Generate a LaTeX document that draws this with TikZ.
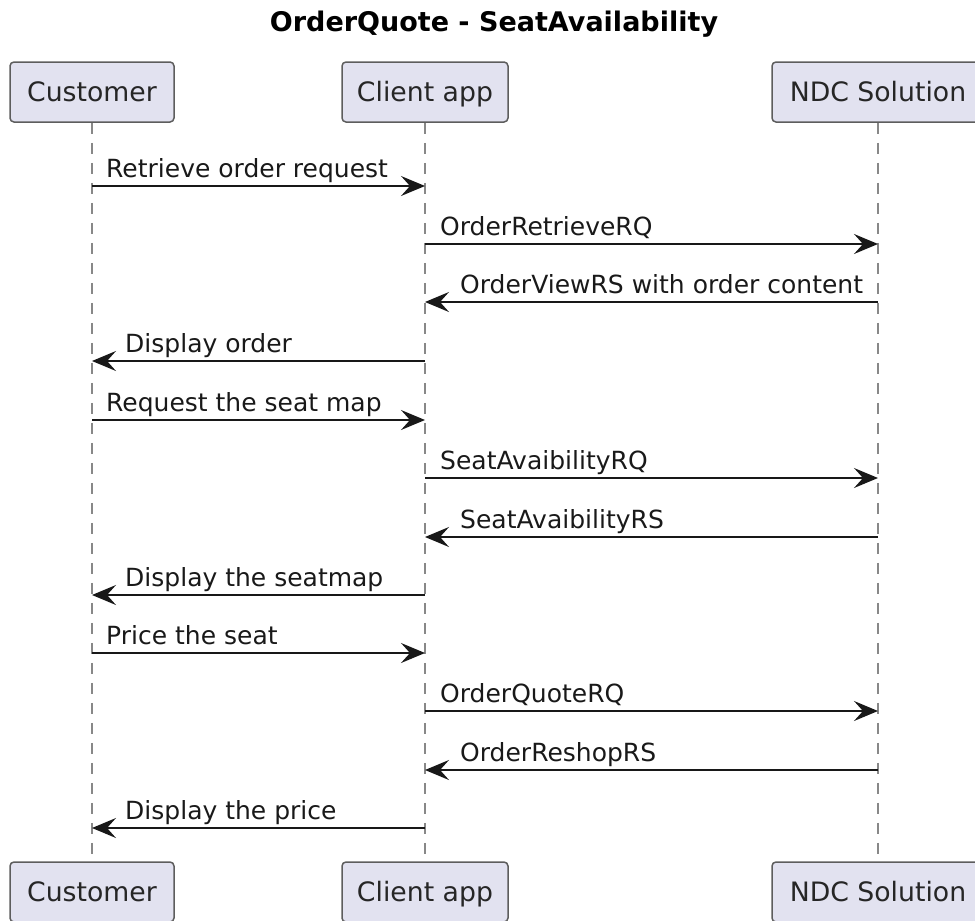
\documentclass[tikz,border=0pt]{standalone}
\usepackage{fontspec}
\setmainfont{DejaVu Sans}
\usetikzlibrary{arrows.meta}
\definecolor{partfill}{HTML}{E2E2F0}
\definecolor{partdraw}{HTML}{181818}
\definecolor{lifecol}{HTML}{888888}
\tikzset{
  part/.style={draw=partdraw!70, fill=partfill, line width=1.5pt, rounded corners=4pt,
    minimum height=60pt, inner sep=0pt, text height=25pt, text depth=6pt,
    font=\fontsize{26.7}{30}\selectfont, text=black!85},
  lifeline/.style={draw=lifecol, line width=1.5pt, dash pattern=on 11pt off 9pt},
  msg/.style={draw=partdraw, line width=1.5pt, -{Stealth[length=24pt, width=20pt, inset=9pt]}},
  lbl/.style={font=\fontsize{25}{30}\selectfont, inner sep=0pt, text=black!90},
}
\begin{document}
\begin{tikzpicture}[x=1pt,y=-1pt]
\useasboundingbox (0,0) rectangle (975,921);
\node[font=\bfseries\fontsize{27}{32}\selectfont, inner sep=0pt, anchor=base] (title) at (494,31) {OrderQuote - SeatAvailability};
% participants
\node[part, minimum width=164pt] (t1) at (92,92) {Customer};
\node[part, minimum width=166pt] (t2) at (425,92) {Client app};
\node[part, minimum width=212pt] (t3) at (878,92) {NDC Solution};
\node[part, minimum width=164pt] (b1) at (92,892) {Customer};
\node[part, minimum width=166pt] (b2) at (425,892) {Client app};
\node[part, minimum width=212pt] (b3) at (878,892) {NDC Solution};
% lifelines
\draw[lifeline] (t1.south) -- (b1.north);
\draw[lifeline] (t2.south) -- (b2.north);
\draw[lifeline] (t3.south) -- (b3.north);
% messages
\draw[msg] (t1 |- 0,186) -- (t2 |- 0,186);
\node[lbl, anchor=base west] (m1) at (106,177) {Retrieve order request};
\draw[msg] (t2 |- 0,244) -- (t3 |- 0,244);
\node[lbl, anchor=base west] (m2) at (440,235) {OrderRetrieveRQ};
\draw[msg] (t3 |- 0,302) -- (t2 |- 0,302);
\node[lbl, anchor=base west] (m3) at (460,293) {OrderViewRS with order content};
\draw[msg] (t2 |- 0,361) -- (t1 |- 0,361);
\node[lbl, anchor=base west] (m4) at (125,352) {Display order};
\draw[msg] (t1 |- 0,420) -- (t2 |- 0,420);
\node[lbl, anchor=base west] (m5) at (106,411) {Request the seat map};
\draw[msg] (t2 |- 0,478) -- (t3 |- 0,478);
\node[lbl, anchor=base west] (m6) at (440,469) {SeatAvaibilityRQ};
\draw[msg] (t3 |- 0,537) -- (t2 |- 0,537);
\node[lbl, anchor=base west] (m7) at (460,528) {SeatAvaibilityRS};
\draw[msg] (t2 |- 0,595) -- (t1 |- 0,595);
\node[lbl, anchor=base west] (m8) at (125,586) {Display the seatmap};
\draw[msg] (t1 |- 0,653) -- (t2 |- 0,653);
\node[lbl, anchor=base west] (m9) at (106,644) {Price the seat};
\draw[msg] (t2 |- 0,711) -- (t3 |- 0,711);
\node[lbl, anchor=base west] (m10) at (440,702) {OrderQuoteRQ};
\draw[msg] (t3 |- 0,770) -- (t2 |- 0,770);
\node[lbl, anchor=base west] (m11) at (460,761) {OrderReshopRS};
\draw[msg] (t2 |- 0,828) -- (t1 |- 0,828);
\node[lbl, anchor=base west] (m12) at (125,819) {Display the price};
\end{tikzpicture}
\end{document}
